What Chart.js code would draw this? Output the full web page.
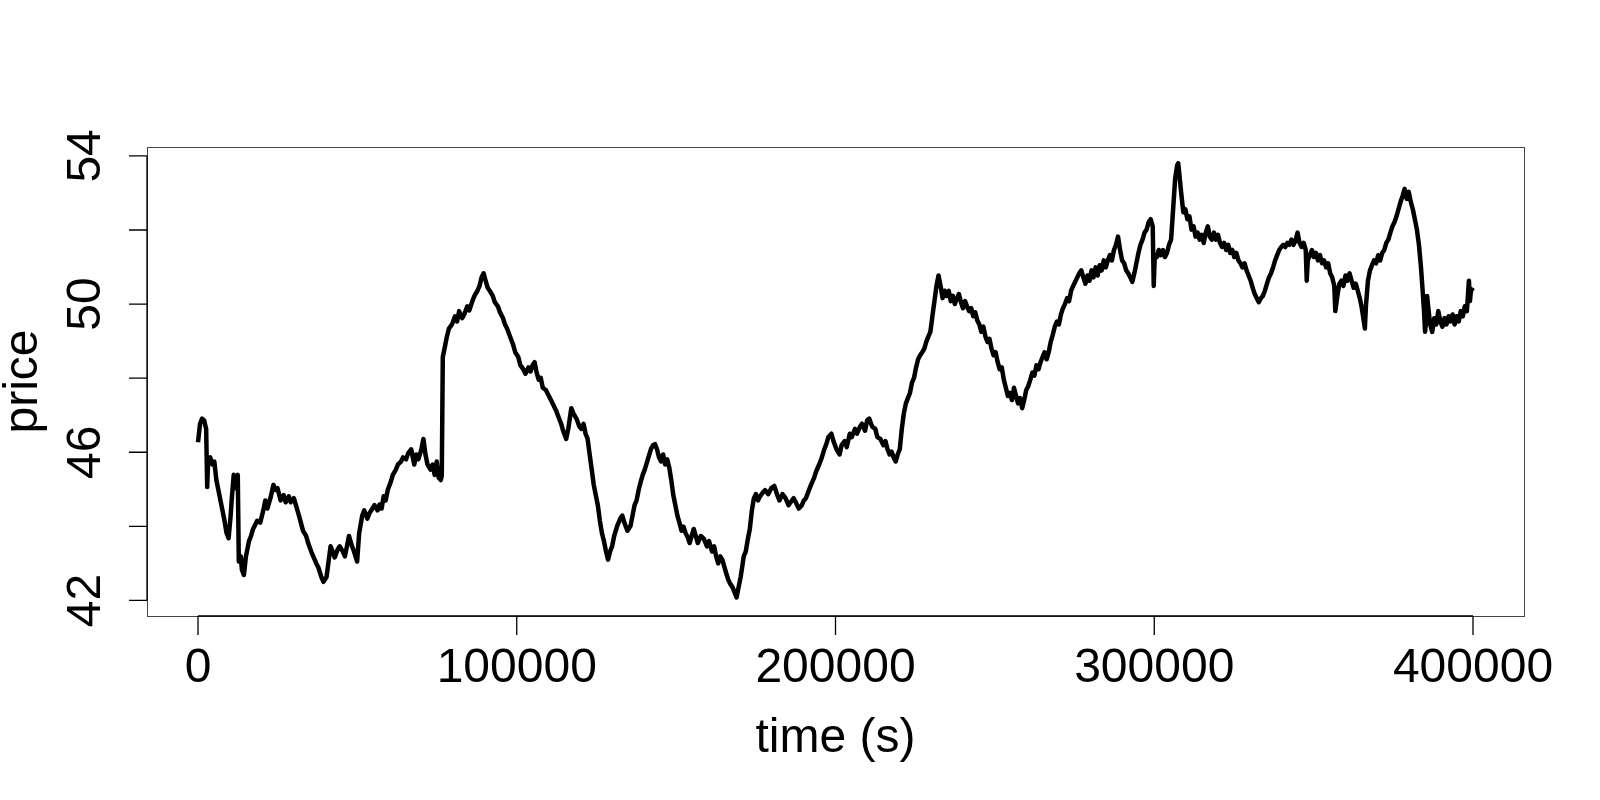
<!DOCTYPE html>
<html>
<head>
<meta charset="utf-8">
<script src="https://cdn.jsdelivr.net/npm/chart.js@4"></script>
<style>
  html, body { margin: 0; padding: 0; background: #fff; }
  #chart { display: block; }
</style>
</head>
<body>
<canvas id="chart" width="1600" height="800"></canvas>
<script>
// price path
const times = [
  0, 640, 1280, 1920, 2560, 2880, 3200, 3840, 4480, 5120, 5760, 6400, 7040, 7680, 8320, 8960, 9600,
  10240, 10560, 11200, 11840, 12480, 12800, 13440, 13760, 14400, 15040, 16000, 16640, 17280, 18560,
  19520, 20480, 21120, 21760, 22720, 23680, 24320, 24960, 25920, 26880, 27520, 28480, 29120, 30080,
  30720, 31680, 32960, 33920, 34560, 35520, 36160, 37120, 37760, 38720, 39360, 40320, 40960, 41600,
  42240, 42880, 43840, 44480, 45440, 46080, 46720, 47360, 48320, 48960, 49920, 50560, 51520, 52160,
  53120, 53760, 54720, 55360, 56320, 56960, 57600, 58240, 58880, 59520, 60480, 61120, 62080, 62720,
  63680, 64320, 65280, 65920, 66880, 67840, 68480, 69120, 70080, 70720, 71360, 72000, 72960, 73600,
  74240, 74880, 75520, 76160, 76480,
  76800, 77440, 78080, 78720, 79680, 80640, 81280, 81920, 82880, 83520, 84480, 85120, 86080, 86720,
  87680, 88320, 88960, 89600, 90240, 90880, 91520, 92480, 93120, 94080, 94720, 95680, 96320, 96960,
  97920, 98880, 99520, 100480, 101120, 102080, 102720, 103680, 104320, 104960, 105600, 106240, 106880,
  107520, 108160, 109120, 110080, 110720, 111680, 112320, 113280, 113920, 114560, 115520, 116160,
  117120, 117760, 118720, 119680, 120320, 120960, 121600, 122240, 122880, 123520, 124160, 124800,
  125440, 126080, 126720, 127360, 128000, 128640, 129280, 129920, 130560, 131520, 132480, 133120,
  133760, 134720, 135680, 136320, 136960, 137600, 138240, 138880, 139520, 140160, 141120, 142080,
  142720, 143360, 144000, 144640, 145280, 145920, 146560, 147200, 147840, 148480, 149120, 149760,
  150400, 151040, 151680, 152320, 152960, 153600, 154240, 154880, 155520, 156160, 156800, 157760,
  158720, 159680, 160320, 161280, 161920, 162560, 163200, 163840, 164480, 165120, 165760, 166400,
  167040, 167680, 168320, 168960, 169600, 170240, 170880, 171200, 171840, 172480, 173120, 173760,
  174400, 175040, 175680, 176320, 177280, 177920, 178880, 179840, 180800, 181760, 182400, 183360,
  184320, 185280, 185920, 186880, 187520, 188480, 189440, 190080, 190720, 191680, 192320, 193280,
  193920, 194880, 195520, 196480, 197120, 197760, 198720, 199360, 200320, 201280, 201920, 202880,
  203520, 204480, 205120, 206080, 206720, 207680, 208320, 209280, 209920, 210560, 211520, 212480,
  213120, 214080, 215040, 215680, 216320, 216960, 217600, 218240, 218880, 219520, 220160, 220800,
  221440, 222080, 222720, 223360, 224000, 224640, 225280, 225920, 226560, 227200, 227840, 228480,
  229120, 229760, 230400, 231040, 231680, 232320, 232960, 233600, 234240, 234880, 235520, 236160,
  236800, 237440, 238080, 238720, 239360, 240000, 240640, 241280, 241920, 242560, 243200, 243840,
  244480, 245120, 245760, 246400, 247040, 247680, 248320, 248960, 249600, 250240, 250880, 251520,
  252160, 252800, 253440, 254080, 254720, 255360, 256000, 256640, 257280, 257920, 258560, 259200,
  259840, 260480, 261120, 261760, 262400, 263040, 263680, 264320, 264960, 265600, 266240, 266880,
  267520, 268160, 268800, 269440, 270080, 270720, 271360, 272000, 272640, 273280, 273920, 274560,
  275200, 275840, 276480, 277120, 277760, 278400, 279040, 279680, 280320, 280960, 281600, 282240,
  282880, 283520, 284160, 284800, 285440, 286080, 286720, 287360, 288000, 288640, 289280, 289920,
  290560, 291200, 291840, 292480, 293120, 293760, 294400, 295040, 295680, 296320, 296960, 297600,
  298240, 298880, 299520, 299840, 300160, 300800, 301440, 302080, 302720, 303360, 304000, 304640,
  305280, 305920, 306560, 307200, 307520, 307840, 308480, 309120, 309760, 310400, 311040, 311680,
  312320, 312960, 313600, 314240, 314880, 315520, 316160, 316800, 317440, 318080, 318720, 319360,
  320000, 320640, 321280, 321920, 322560, 323200, 323840, 324480, 325120, 325760, 326400, 327040,
  327680, 328320, 328960, 329600, 330240, 330880, 331520, 332160, 332800, 333440, 334080, 334720,
  335360, 336000, 336640, 337280, 337920, 338560, 339200, 339840, 340480, 341120, 341760, 342400,
  343040, 343680, 344320, 344960, 345600, 346240, 346880, 347520, 347840, 348160, 348800, 349440,
  350080, 350720, 351360, 352000, 352640, 353280, 353920, 354560, 355200, 355840, 356480, 356800,
  357440, 358080, 358720, 359360, 360000, 360640, 361280, 361920, 362560, 363200, 363840, 364480,
  365120, 365760, 366080, 366400, 367040, 367680, 368320, 368960, 369600, 370240, 370880, 371520,
  372160, 372800, 373440, 374080, 374720, 375360, 376000, 376640, 377280, 377920, 378560, 379200,
  379840, 380480, 381120, 381760, 382400, 383040, 383680, 384320, 384640, 384960, 385280, 385600,
  385920, 386560, 387200, 387840, 388480, 389120, 389760, 390400, 391040, 391680, 392320, 392960,
  393600, 394240, 394880, 395520, 396160, 396800, 397440, 398080, 398720, 399040, 399360, 400000
];

const prices = [
  46.27, 46.77, 46.91, 46.86, 46.63, 45.06, 45.81, 45.86, 45.67, 45.75, 45.25, 44.98, 44.70, 44.43, 44.15, 43.82, 43.68,
  44.29, 44.70, 45.39, 45.03, 45.39, 43.05, 43.19, 42.83, 42.69, 43.19, 43.60, 43.74, 43.93, 44.15,
  44.10, 44.43, 44.70, 44.48, 44.76, 45.12, 44.98, 45.03, 44.70, 44.84, 44.65, 44.81, 44.65, 44.76,
  44.57, 44.29, 43.88, 43.74, 43.55, 43.32, 43.19, 43.00, 42.89, 42.63, 42.50, 42.63, 43.05, 43.46,
  43.32, 43.16, 43.38, 43.46, 43.32, 43.19, 43.46, 43.74, 43.46, 43.32, 43.05, 43.82, 44.29, 44.43,
  44.21, 44.35, 44.48, 44.57, 44.43, 44.59, 44.48, 44.81, 44.70, 44.98, 45.20, 45.39, 45.53, 45.67,
  45.75, 45.86, 45.81, 45.97, 46.08, 45.67, 45.94, 45.81, 46.08, 46.36, 45.94, 45.67, 45.53, 45.67,
  45.39, 45.75, 45.31, 45.25, 45.36,
  48.57, 48.84, 49.12, 49.34, 49.45, 49.67, 49.53, 49.81, 49.62, 49.72, 49.94, 49.83, 50.08, 50.22,
  50.36, 50.49, 50.72, 50.83, 50.63, 50.44, 50.36, 50.22, 50.05, 49.94, 49.78, 49.62, 49.45, 49.34,
  49.12, 48.90, 48.70, 48.57, 48.35, 48.24, 48.12, 48.29, 48.18, 48.35, 48.43, 48.15, 47.96,
  48.01, 47.74, 47.68, 47.52, 47.41, 47.24, 47.13, 46.91, 46.77, 46.58, 46.36, 46.63,
  47.19, 47.05, 46.91, 46.69, 46.63, 46.77, 46.50, 46.36, 45.94, 45.53, 45.12, 44.84,
  44.57, 44.15, 43.82, 43.60, 43.32, 43.10, 43.32, 43.46, 43.74, 44.01, 44.21, 44.29,
  44.10, 43.88, 44.01, 44.29, 44.57, 44.70, 44.98, 45.20, 45.39, 45.53, 45.81, 46.08,
  46.19, 46.22, 46.08, 45.86, 45.75, 45.94, 45.67, 45.81, 45.59, 45.25, 44.84, 44.57,
  44.29, 44.10, 43.88, 43.99, 43.82, 43.71, 43.55, 43.74, 43.93, 43.74, 43.55, 43.74,
  43.66, 43.46, 43.60, 43.32, 43.46, 43.19, 43.00, 43.19, 43.10, 42.91, 42.72, 42.55,
  42.44, 42.36, 42.22, 42.08, 42.36, 42.63, 42.99, 43.19, 43.32, 43.65, 43.93, 44.43,
  44.76, 44.87, 44.70, 44.81, 44.92, 44.98, 44.87, 45.03, 45.09, 44.84, 44.70, 44.87,
  44.76, 44.57, 44.65, 44.76, 44.65, 44.48, 44.57, 44.70, 44.76, 44.98, 45.12, 45.31,
  45.48, 45.67, 45.81, 46.08, 46.22, 46.41, 46.50, 46.30, 46.08, 45.94, 46.19, 46.30,
  46.14, 46.50, 46.41, 46.63, 46.50, 46.69, 46.77, 46.58, 46.86, 46.91, 46.69, 46.63,
  46.41, 46.36, 46.19, 46.30, 46.08, 45.94, 46.02, 45.86, 45.75, 45.94, 46.08, 46.63,
  47.05, 47.32, 47.46, 47.60, 47.88, 48.01, 48.29, 48.51, 48.62, 48.70, 48.79, 48.98,
  49.12, 49.25, 49.67, 50.08, 50.49, 50.77, 50.49, 50.16, 50.36, 50.22, 50.36, 50.08,
  50.22, 50.00, 50.16, 50.27, 50.05, 49.89, 50.08, 49.94, 49.81, 49.89, 49.67, 49.78,
  49.56, 49.45, 49.25, 49.39, 49.12, 48.98, 49.06, 48.79, 48.62, 48.70, 48.43, 48.24,
  48.29, 47.96, 47.74, 47.52, 47.60, 47.41, 47.74, 47.52, 47.32, 47.46, 47.19, 47.41,
  47.68, 47.79, 47.96, 48.15, 48.07, 48.35, 48.24, 48.43, 48.57, 48.70, 48.51, 48.70,
  48.98, 49.17, 49.39, 49.53, 49.45, 49.72, 49.89, 50.00, 50.16, 50.08, 50.36, 50.49,
  50.60, 50.72, 50.83, 50.91, 50.72, 50.55, 50.77, 50.63, 50.91, 50.72, 50.99, 50.77,
  51.05, 50.91, 51.18, 50.99, 51.18, 51.32, 51.18, 51.46, 51.60, 51.82, 51.46, 51.18,
  51.10, 50.91, 50.83, 50.72, 50.60, 50.83, 51.10, 51.38, 51.60, 51.74, 51.93, 52.01,
  52.21, 52.29, 52.10, 50.49, 51.32, 51.27, 51.46, 51.32, 51.46, 51.27, 51.38, 51.60,
  51.74, 52.56, 53.39, 53.75, 53.80, 53.53, 52.98, 52.48, 52.56, 52.29, 52.37, 52.01,
  52.10, 51.82, 51.93, 51.74, 51.87, 51.65, 51.93, 52.10, 51.82, 51.74, 51.93, 51.74,
  51.87, 51.65, 51.54, 51.65, 51.46, 51.60, 51.38, 51.46, 51.27, 51.38, 51.18, 51.10,
  50.99, 51.10, 50.91, 50.77, 50.63, 50.44, 50.27, 50.16, 50.05, 50.16, 50.22, 50.36,
  50.55, 50.72, 50.83, 50.99, 51.18, 51.32, 51.46, 51.54, 51.60, 51.54, 51.65, 51.60,
  51.74, 51.60, 51.71, 51.93, 51.65, 51.54, 51.65, 51.46, 50.63, 51.18, 51.32, 51.46,
  51.27, 51.38, 51.18, 51.32, 51.10, 51.18, 50.99, 51.10, 50.83, 50.72, 50.49, 49.81,
  50.22, 50.55, 50.63, 50.49, 50.77, 50.63, 50.83, 50.63, 50.44, 50.55, 50.36, 50.16,
  49.89, 49.53, 49.34, 49.94, 50.63, 50.91, 51.05, 51.18, 51.10, 51.32, 51.18, 51.38,
  51.46, 51.65, 51.74, 51.93, 52.10, 52.21, 52.37, 52.56, 52.76, 52.92, 53.11, 52.84,
  53.03, 52.76, 52.56, 52.29, 52.01, 51.60, 50.99, 50.22, 49.81, 49.25, 49.53, 50.22,
  49.94, 49.45, 49.25, 49.62, 49.45, 49.81, 49.53, 49.39, 49.62, 49.45, 49.67, 49.53,
  49.72, 49.45, 49.67, 49.53, 49.81, 49.67, 49.94, 49.81, 50.63, 50.08, 50.36, 50.44
];

const xTicks = [0, 100000, 200000, 300000, 400000];
const yTicks = [42, 44, 46, 48, 50, 52, 54];
const yLabels = [42, 46, 50, 54];

const FONT = '48px "Liberation Sans", Arial, Helvetica, sans-serif';

// R-style axes: box, outward ticks, rotated y labels
const rAxes = {
  id: 'rAxes',
  afterDraw(chart) {
    const ctx = chart.ctx;
    const area = chart.chartArea;
    const xs = chart.scales.x, ys = chart.scales.y;
    ctx.save();

    ctx.strokeStyle = '#444';
    ctx.lineWidth = 1;
    ctx.strokeRect(area.left + 0.5, area.top + 0.5, area.right - area.left, area.bottom - area.top);

    ctx.strokeStyle = '#000';
    ctx.lineWidth = 1.3;
    ctx.beginPath();
    const x0 = xs.getPixelForValue(xTicks[0]), x1 = xs.getPixelForValue(xTicks[xTicks.length - 1]);
    ctx.moveTo(x0, area.bottom); ctx.lineTo(x1, area.bottom);
    xTicks.forEach(t => {
      const px = xs.getPixelForValue(t);
      ctx.moveTo(px, area.bottom); ctx.lineTo(px, area.bottom + 19);
    });
    const y0 = ys.getPixelForValue(yTicks[0]), y1 = ys.getPixelForValue(yTicks[yTicks.length - 1]);
    ctx.moveTo(area.left, y0); ctx.lineTo(area.left, y1);
    yTicks.forEach(v => {
      const py = ys.getPixelForValue(v);
      ctx.moveTo(area.left, py); ctx.lineTo(area.left - 18, py);
    });
    ctx.stroke();

    ctx.fillStyle = '#000';
    ctx.font = FONT;
    ctx.textAlign = 'center';
    ctx.textBaseline = 'alphabetic';
    xTicks.forEach(t => {
      ctx.fillText(String(t), xs.getPixelForValue(t), 682);
    });
    ctx.fillText('time (s)', (area.left + area.right) / 2, 752);

    yLabels.forEach(v => {
      ctx.save();
      ctx.translate(100, ys.getPixelForValue(v));
      ctx.rotate(-Math.PI / 2);
      ctx.fillText(String(v), 0, 0);
      ctx.restore();
    });
    ctx.save();
    ctx.translate(37, (area.top + area.bottom) / 2);
    ctx.rotate(-Math.PI / 2);
    ctx.fillText('price', 0, 0);
    ctx.restore();

    ctx.restore();
  }
};

new Chart(document.getElementById('chart'), {
  type: 'line',
  data: {
    datasets: [{
      data: times.map((t, i) => ({ x: t, y: prices[i] })),
      borderColor: '#000',
      borderWidth: 4.5,
      borderJoinStyle: 'round',
      pointRadius: 0,
      tension: 0,
      fill: false
    }]
  },
  options: {
    responsive: false,
    animation: false,
    devicePixelRatio: 1,
    layout: { padding: { left: 147, top: 147, right: 76, bottom: 184 } },
    plugins: { legend: { display: false }, tooltip: { enabled: false } },
    scales: {
      x: { type: 'linear', min: -16000, max: 416000, display: false },
      y: { type: 'linear', min: 41.58, max: 54.24, display: false }
    }
  },
  plugins: [rAxes]
});
</script>
</body>
</html>
